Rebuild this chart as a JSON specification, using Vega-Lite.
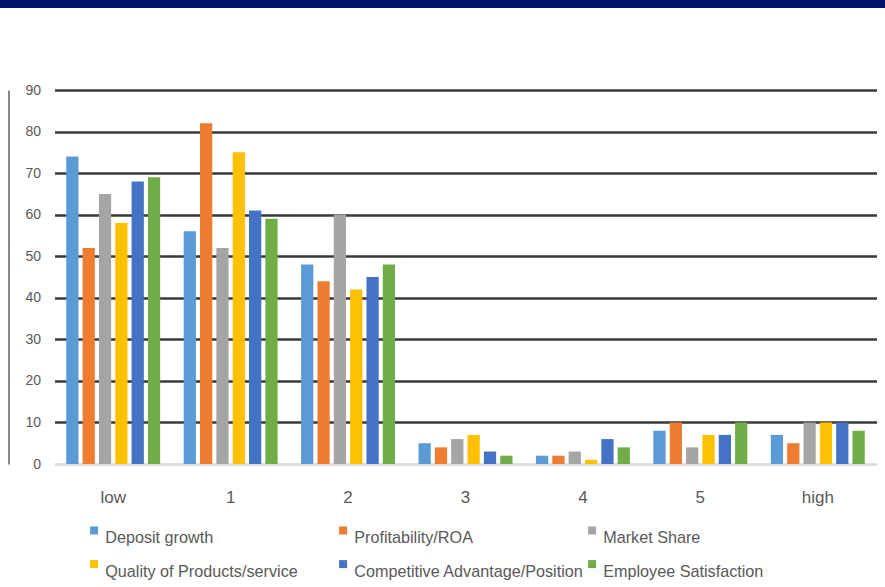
{
  "$schema": "https://vega.github.io/schema/vega-lite/v6.json",
  "padding": 0,
  "autosize": {"type": "pad"},
  "background": "white",
  "columns": 1,
  "center": true,
  "spacing": 75,
  "config": {
    "view": {"stroke": null},
    "font": "Liberation Sans, sans-serif",
    "axis": {"labelFont": "Liberation Sans, sans-serif", "labelColor": "#595959", "title": null},
    "legend": {"labelFont": "Liberation Sans, sans-serif"}
  },
  "concat": [
    {
      "width": 931,
      "height": 8,
      "data": {"values": [{"part": "header"}]},
      "mark": {"type": "rect", "color": "#00126b"},
      "encoding": {}
    },
    {
      "width": 822,
      "height": 374,
      "data": {
        "values": [
          {"level": "low", "factor": "Deposit growth", "value": 74},
          {"level": "low", "factor": "Profitability/ROA", "value": 52},
          {"level": "low", "factor": "Market Share", "value": 65},
          {"level": "low", "factor": "Quality of Products/service", "value": 58},
          {"level": "low", "factor": "Competitive Advantage/Position", "value": 68},
          {"level": "low", "factor": "Employee Satisfaction", "value": 69},
          {"level": "1", "factor": "Deposit growth", "value": 56},
          {"level": "1", "factor": "Profitability/ROA", "value": 82},
          {"level": "1", "factor": "Market Share", "value": 52},
          {"level": "1", "factor": "Quality of Products/service", "value": 75},
          {"level": "1", "factor": "Competitive Advantage/Position", "value": 61},
          {"level": "1", "factor": "Employee Satisfaction", "value": 59},
          {"level": "2", "factor": "Deposit growth", "value": 48},
          {"level": "2", "factor": "Profitability/ROA", "value": 44},
          {"level": "2", "factor": "Market Share", "value": 60},
          {"level": "2", "factor": "Quality of Products/service", "value": 42},
          {"level": "2", "factor": "Competitive Advantage/Position", "value": 45},
          {"level": "2", "factor": "Employee Satisfaction", "value": 48},
          {"level": "3", "factor": "Deposit growth", "value": 5},
          {"level": "3", "factor": "Profitability/ROA", "value": 4},
          {"level": "3", "factor": "Market Share", "value": 6},
          {"level": "3", "factor": "Quality of Products/service", "value": 7},
          {"level": "3", "factor": "Competitive Advantage/Position", "value": 3},
          {"level": "3", "factor": "Employee Satisfaction", "value": 2},
          {"level": "4", "factor": "Deposit growth", "value": 2},
          {"level": "4", "factor": "Profitability/ROA", "value": 2},
          {"level": "4", "factor": "Market Share", "value": 3},
          {"level": "4", "factor": "Quality of Products/service", "value": 1},
          {"level": "4", "factor": "Competitive Advantage/Position", "value": 6},
          {"level": "4", "factor": "Employee Satisfaction", "value": 4},
          {"level": "5", "factor": "Deposit growth", "value": 8},
          {"level": "5", "factor": "Profitability/ROA", "value": 10},
          {"level": "5", "factor": "Market Share", "value": 4},
          {"level": "5", "factor": "Quality of Products/service", "value": 7},
          {"level": "5", "factor": "Competitive Advantage/Position", "value": 7},
          {"level": "5", "factor": "Employee Satisfaction", "value": 10},
          {"level": "high", "factor": "Deposit growth", "value": 7},
          {"level": "high", "factor": "Profitability/ROA", "value": 5},
          {"level": "high", "factor": "Market Share", "value": 10},
          {"level": "high", "factor": "Quality of Products/service", "value": 10},
          {"level": "high", "factor": "Competitive Advantage/Position", "value": 10},
          {"level": "high", "factor": "Employee Satisfaction", "value": 8}
        ]
      },
      "mark": {"type": "bar"},
      "encoding": {
        "x": {
          "field": "level",
          "type": "nominal",
          "sort": ["low", "1", "2", "3", "4", "5", "high"],
          "scale": {"paddingInner": 0.2, "paddingOuter": 0.1},
          "axis": {
            "labelAngle": 0,
            "labelFontSize": 17,
            "labelPadding": 25,
            "ticks": false,
            "domain": true,
            "domainColor": "#d9d9d9",
            "domainWidth": 1.5,
            "grid": false
          }
        },
        "xOffset": {
          "field": "factor",
          "sort": ["Deposit growth", "Profitability/ROA", "Market Share", "Quality of Products/service", "Competitive Advantage/Position", "Employee Satisfaction"],
          "scale": {"paddingInner": 0.25}
        },
        "y": {
          "field": "value",
          "type": "quantitative",
          "scale": {"domain": [0, 90], "nice": false},
          "axis": {
            "values": [0, 10, 20, 30, 40, 50, 60, 70, 80, 90],
            "labelFontSize": 14,
            "offset": 46,
            "ticks": false,
            "tickSize": 0,
            "labelPadding": -32,
            "domain": true,
            "domainColor": "#8a8a8a",
            "domainWidth": 2,
            "grid": true,
            "gridWidth": 2.5,
            "gridColor": {"condition": {"test": "datum.value === 0", "value": "#d9d9d9"}, "value": "#383838"}
          }
        },
        "color": {
          "field": "factor",
          "type": "nominal",
          "sort": ["Deposit growth", "Profitability/ROA", "Market Share", "Quality of Products/service", "Competitive Advantage/Position", "Employee Satisfaction"],
          "scale": {"range": ["#5b9bd5", "#ed7d31", "#a5a5a5", "#ffc000", "#4472c4", "#70ad47"]},
          "legend": {
            "title": null,
            "orient": "none",
            "legendX": 86,
            "legendY": 522,
            "direction": "horizontal",
            "columns": 3,
            "gridAlign": "all",
            "columnPadding": 0,
            "rowPadding": 9,
            "symbolType": "square",
            "symbolSize": 64,
            "symbolStrokeWidth": 0,
            "labelFontSize": 16.2,
            "labelColor": "#595959",
            "labelBaseline": "top",
            "labelOffset": 3,
            "labelLimit": 300
          }
        }
      }
    }
  ]
}
